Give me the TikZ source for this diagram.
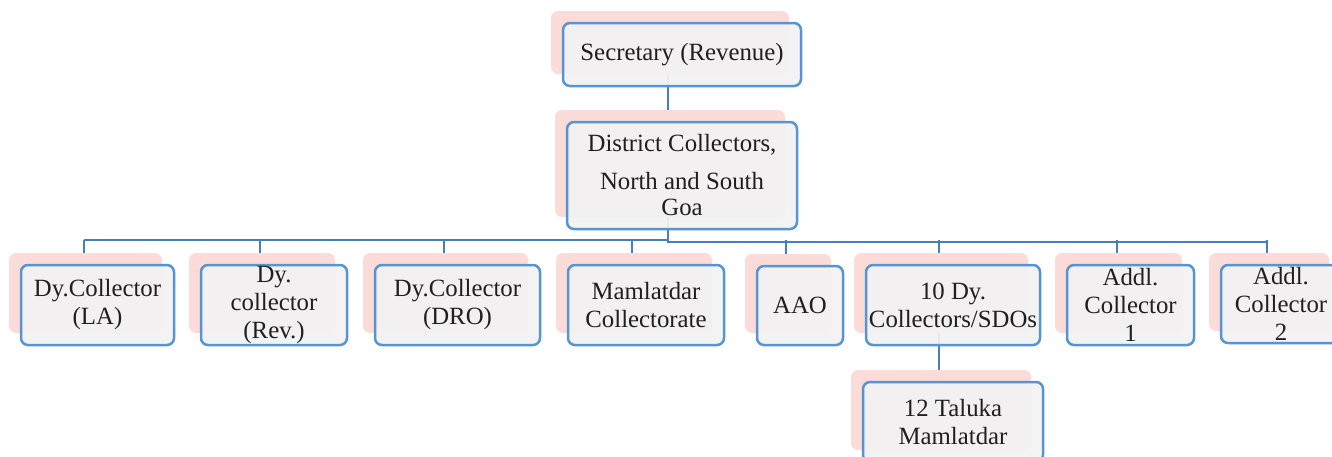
\documentclass[tikz,border=0pt]{standalone}
\usepackage{fontspec}
\setmainfont{Liberation Serif}
\usepackage{tikz}
\usetikzlibrary{shadows,backgrounds,positioning}
\definecolor{shpink}{RGB}{251,220,217}
\definecolor{boxblue}{RGB}{86,148,210}
\definecolor{linkblue}{RGB}{70,128,188}
\definecolor{boxgray}{RGB}{242,242,242}

\begin{document}
\begin{tikzpicture}[x=0.5pt,y=-0.5pt,
	font=\fontsize{12.4}{14}\selectfont\color{black!88},
	post/.style={draw=boxblue, line width=1.25pt, fill=boxgray, fill opacity=0.92, text opacity=1,
		rounded corners=3.5pt, inner sep=0pt, align=center,
		general shadow={fill=shpink, fill opacity=1, draw=none, shadow xshift=-6pt, shadow yshift=6pt}},
	link/.style={draw=linkblue, line width=1pt}]
	\useasboundingbox (0,0) rectangle (1332,456);
	\clip (0,0) rectangle (1332,456);
	% top two levels
	\node[post, minimum width=119pt, minimum height=31.5pt] (sec) at (682,54.5) {Secretary (Revenue)};
	\node[post, minimum width=115pt, minimum height=53.5pt] (dist) at (682,175.5) {District Collectors,\\[5pt] North and South\\[-1pt] Goa};
	% offices under the collectors
	\node[post, minimum width=76.5pt, minimum height=40pt] (la) at (97.5,305) {Dy.Collector\\(LA)};
	\node[post, minimum width=73pt, minimum height=40pt] (rev) at (274,305) {Dy.\\collector\\(Rev.)};
	\node[post, minimum width=82.5pt, minimum height=40pt] (dro) at (457.5,305) {Dy.Collector\\(DRO)};
	\node[post, minimum width=78pt, minimum height=40pt] (mam) at (646,305) {Mamlatdar\\Collectorate};
	\node[post, minimum width=43pt, minimum height=39.5pt] (aao) at (800,305.5) {AAO};
	\node[post, minimum width=87pt, minimum height=40pt] (dyten) at (953,305) {10 Dy.\\Collectors/SDOs};
	\node[post, minimum width=63.5pt, minimum height=40pt] (addone) at (1130.5,305) {Addl.\\Collector\\1};
	\node[post, minimum width=60pt, minimum height=39pt] (addtwo) at (1281,304) {Addl.\\Collector\\2};
	\node[post, minimum width=90pt, minimum height=40pt] (tal) at (953,422) {12 Taluka\\Mamlatdar};
	
	\begin{scope}[on background layer]
		\coordinate (bus) at (0,239.5);
		\coordinate (busr) at (0,242);
		\draw[link] ([xshift=-7pt]sec.center) -- ([xshift=-7pt]dist.north);
		\foreach \n in {la,rev,dro,mam,aao,dyten,addone,addtwo}{
			\path ([xshift=-7pt]\n.north) coordinate (\n-top);
			\draw[link] (\n-top) -- (\n-top |- bus);
		}
		\path ([xshift=-7pt]dist.center) coordinate (trunk);
		\draw[link] (la-top |- bus) -- (trunk |- bus);
		\draw[link] (trunk) |- (addtwo-top |- busr) -- (addtwo-top |- bus);
		\draw[link] ([xshift=-7pt]dyten.center) -- ([xshift=-7pt]tal.north);
	\end{scope}
\end{tikzpicture}
\end{document}
